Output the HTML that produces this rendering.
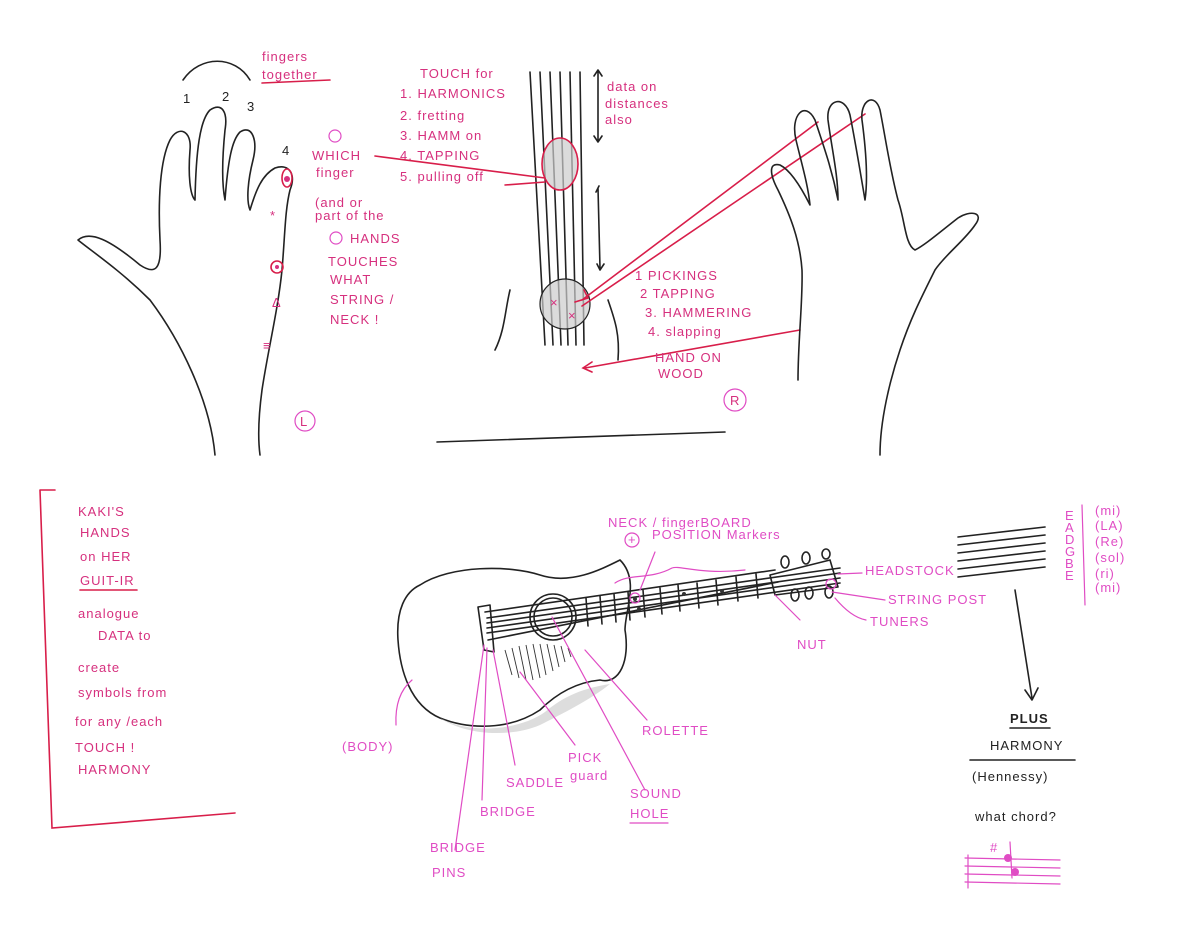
<!DOCTYPE html>
<html><head><meta charset="utf-8"><style>
html,body{margin:0;padding:0;background:#fff;}
svg{display:block;}
.k{fill:none;stroke:#222;stroke-width:1.6;stroke-linecap:round;stroke-linejoin:round}
.r{fill:none;stroke:#d81e4a;stroke-width:1.6;stroke-linecap:round}
.m{fill:none;stroke:#e04cc4;stroke-width:1.2;stroke-linecap:round}
.t{font-family:"Liberation Sans",sans-serif;fill:#d6307e;font-size:13px;letter-spacing:1px}
.tm{font-family:"Liberation Sans",sans-serif;fill:#e04cc4;font-size:13px;letter-spacing:1px}
.tk{font-family:"Liberation Sans",sans-serif;fill:#222;font-size:13px;letter-spacing:1px}
</style></head><body>
<svg width="1200" height="938" viewBox="0 0 1200 938" xmlns="http://www.w3.org/2000/svg">
<!-- LEFT HAND -->
<path class="k" d="M215 455 C210 400 180 340 150 300 C120 270 90 250 78 240 C90 230 110 240 140 265 C155 275 162 270 160 240 C158 200 160 160 170 140 C178 125 192 130 190 150 C188 175 190 195 195 200 C196 150 200 120 210 110 C222 102 228 112 225 130 C222 160 222 185 225 200 C228 160 232 140 240 132 C252 124 258 140 253 160 C248 180 246 200 250 210 C256 190 262 175 275 168 C290 163 296 175 290 190 C285 210 285 235 282 270 C278 310 268 350 262 390 C258 420 258 440 260 455"/>
<path class="k" d="M183 80 C200 55 235 55 250 80"/>
<text class="tk" x="183" y="103" font-size="10">1</text><text class="tk" x="222" y="101" font-size="10">2</text><text class="tk" x="247" y="111" font-size="10">3</text><text class="tk" x="282" y="155" font-size="10">4</text>
<text class="t" x="262" y="61">fingers</text><text class="t" x="262" y="79">together</text>
<path class="r" d="M262 83 L330 80"/>
<circle cx="287" cy="179" r="3" fill="#d6307e"/><ellipse cx="287" cy="178" rx="5" ry="9" class="r"/>
<text class="t" x="270" y="220" font-size="12">*</text>
<circle cx="277" cy="267" r="6" class="r"/><circle cx="277" cy="267" r="2" fill="#d6307e"/>
<text class="t" x="272" y="307" font-size="11">Δ</text>
<text class="t" x="263" y="350" font-size="11">≡</text>
<circle cx="305" cy="421" r="10" class="m" stroke="#d6307e"/><text class="t" x="300" y="426" font-size="11">L</text>
<circle cx="335" cy="136" r="6" class="m" stroke="#d6307e"/>
<text class="t" x="312" y="160">WHICH</text><text class="t" x="316" y="177">finger</text>
<text class="t" x="315" y="207" font-size="12">(and or</text><text class="t" x="315" y="220" font-size="12">part of the</text>
<circle cx="336" cy="238" r="6" class="m" stroke="#d6307e"/><text class="t" x="350" y="243">HANDS</text>
<text class="t" x="328" y="266">TOUCHES</text><text class="t" x="330" y="284">WHAT</text>
<text class="t" x="330" y="304">STRING /</text><text class="t" x="330" y="324">NECK !</text>
<!-- top list -->
<text class="t" x="420" y="78" font-size="12">TOUCH for</text>
<text class="t" x="400" y="98" font-size="12">1. HARMONICS</text>
<text class="t" x="400" y="120" font-size="12">2. fretting</text>
<text class="t" x="400" y="140" font-size="12">3. HAMM on</text>
<text class="t" x="400" y="160" font-size="12">4. TAPPING</text>
<text class="t" x="400" y="181" font-size="12">5. pulling off</text>
<!-- NECK -->
<g class="k" stroke-width="1.2"><path d="M530 72 L545 345"/><path d="M540 72 L553 345"/><path d="M550 72 L561 345"/><path d="M560 72 L568 345"/><path d="M570 72 L576 345"/><path d="M580 72 L584 345"/></g>
<path class="k" d="M510 290 C505 310 505 330 495 350"/><path class="k" d="M608 300 C615 320 620 335 618 360"/>
<ellipse cx="560" cy="164" rx="18" ry="26" fill="#ccc" fill-opacity=".7" stroke="#d81e4a" stroke-width="1.6"/>
<circle cx="565" cy="304" r="25" fill="#ccc" fill-opacity=".7" stroke="#222" stroke-width="1.2"/>
<text class="t" x="550" y="307" fill="#d81e4a">×</text><text class="t" x="568" y="320" fill="#d81e4a">×</text>
<path class="r" d="M375 156 L545 178"/><path class="r" d="M505 185 L545 182"/>
<path class="k" d="M598 72 L598 140 M594 76 L598 70 L602 76 M594 136 L598 142 L602 136" stroke-width="1"/>
<path class="k" d="M598 188 L600 268 M596 192 L599 186 M597 264 L600 270 L604 264" stroke-width="1"/>
<text class="t" x="607" y="91" font-size="12">data on</text><text class="t" x="605" y="108" font-size="12">distances</text><text class="t" x="605" y="124" font-size="12">also</text>
<path class="r" d="M582 300 L818 122 M582 306 L865 114 M575 302 L588 298 L584 290"/>
<text class="t" x="635" y="280" font-size="12">1 PICKINGS</text><text class="t" x="640" y="298" font-size="12">2 TAPPING</text>
<text class="t" x="645" y="317" font-size="12">3. HAMMERING</text><text class="t" x="648" y="336" font-size="12">4. slapping</text>
<path class="r" d="M800 330 L585 368 M592 362 L583 368 L592 372"/>
<text class="t" x="655" y="362" font-size="12">HAND ON</text><text class="t" x="658" y="378" font-size="12">WOOD</text>
<circle cx="735" cy="400" r="11" stroke="#d6307e" class="m"/><text class="t" x="730" y="405" font-size="11">R</text>
<path class="k" d="M437 442 L725 432" stroke-width="1.4"/>
<!-- RIGHT HAND -->
<path class="k" d="M880 455 C880 420 890 380 900 350 C910 320 920 300 935 270 C945 255 965 240 975 225 C985 212 970 210 958 218 C940 232 925 245 915 250 C905 245 905 220 898 200 C890 170 885 135 880 110 C875 92 860 100 862 120 C866 150 868 180 865 200 C860 170 855 140 850 115 C845 95 826 98 828 120 C832 150 838 175 838 200 C832 170 825 150 815 120 C805 100 790 115 796 140 C802 165 808 185 810 205 C800 185 790 170 780 165 C768 162 770 175 778 190 C790 215 800 240 802 270 C803 300 798 340 798 380"/>
<!-- LEFT box -->
<path class="r" d="M40 490 L52 828 L235 813 M40 490 L55 490" stroke-width="1.4"/>
<g class="t" font-size="16">
<text x="78" y="516">KAKI'S</text><text x="80" y="537">HANDS</text><text x="80" y="561">on HER</text><text x="80" y="585">GUIT-IR</text>
<text x="78" y="618">analogue</text><text x="98" y="640">DATA to</text><text x="78" y="672">create</text>
<text x="78" y="697">symbols from</text><text x="75" y="726">for any /each</text><text x="75" y="752">TOUCH !</text><text x="78" y="774">HARMONY</text></g>
<path class="r" d="M80 590 L137 590" stroke-width="1"/>
<!-- GUITAR -->
<path class="k" d="M420 585 C450 565 510 565 540 575 C570 585 600 570 620 560 C640 580 625 610 625 630 C630 660 620 685 600 680 C580 682 560 690 540 710 C510 730 470 730 440 718 C410 705 400 670 398 640 C396 610 405 592 420 585 Z" fill="#fff"/>
<path d="M440 718 C470 735 520 730 545 712 C565 695 585 688 610 684 C590 700 560 715 540 725 C510 738 465 735 440 718 Z" fill="#ddd"/>
<g stroke="#333" stroke-width=".9"><path d="M505 650 L512 675"/><path d="M512 648 L519 678"/><path d="M519 646 L526 680"/><path d="M526 645 L533 680"/><path d="M533 644 L540 678"/><path d="M540 644 L546 675"/><path d="M547 644 L553 671"/><path d="M554 645 L559 667"/><path d="M561 646 L565 662"/><path d="M568 648 L571 657"/></g>
<circle cx="553" cy="617" r="23" class="k" fill="#fff"/><circle cx="553" cy="617" r="19" class="k" stroke-width="1"/>
<path class="k" d="M485 612 L775 570 M488 640 L778 582" stroke-width="1.2"/>
<g class="k" stroke-width=".8"><path d="M487 618 L840 568"/><path d="M487 623 L840 573"/><path d="M487 628 L840 578"/><path d="M487 633 L840 583"/></g>
<g class="k" stroke-width=".9"><path d="M586 598 L588 626"/><path d="M600 596 L602 624"/><path d="M614 594 L616 622"/><path d="M628 592 L630 620"/><path d="M643 590 L645 617"/><path d="M660 588 L662 614"/><path d="M678 585 L680 611"/><path d="M697 583 L699 608"/><path d="M716 580 L718 605"/><path d="M736 577 L738 601"/><path d="M756 574 L758 598"/></g>
<path class="k" d="M478 607 L490 605 L494 652 L484 650 Z" fill="#fff" stroke-width="1.2"/>
<path class="k" d="M770 575 L830 560 L838 587 L775 595 Z" stroke-width="1.2" fill="#fff"/>
<g class="k" stroke-width="1.2" fill="#fff"><ellipse cx="785" cy="562" rx="4" ry="6"/><ellipse cx="806" cy="558" rx="4" ry="6"/><ellipse cx="826" cy="554" rx="4" ry="5"/><ellipse cx="795" cy="595" rx="4" ry="6"/><ellipse cx="809" cy="593" rx="4" ry="6"/><ellipse cx="829" cy="592" rx="4" ry="6"/></g>
<circle cx="831" cy="584" r="5" class="m"/>
<g fill="#333"><circle cx="635" cy="599" r="2"/><circle cx="639" cy="609" r="2"/><circle cx="684" cy="594" r="2"/><circle cx="722" cy="591" r="2"/></g>
<circle cx="635" cy="598" r="5" class="m"/>
<path class="m" d="M615 583 C630 573 650 580 672 568 C680 565 700 575 745 570"/>
<path class="m" d="M640 590 L655 552"/>
<text class="tm" x="608" y="527" font-size="12">NECK / fingerBOARD</text>
<circle cx="632" cy="540" r="7" class="m"/><text class="tm" x="628" y="544" font-size="11">+</text>
<text class="tm" x="652" y="539" font-size="13">POSITION Markers</text>
<text class="tm" x="865" y="575">HEADSTOCK</text><path class="m" d="M838 574 L862 573"/>
<text class="tm" x="888" y="604">STRING POST</text><path class="m" d="M832 592 L885 600"/>
<text class="tm" x="870" y="626">TUNERS</text><path class="m" d="M835 598 C845 610 855 618 866 620"/>
<text class="tm" x="797" y="649" font-size="12">NUT</text><path class="m" d="M775 595 L800 620"/>
<text class="tm" x="342" y="751" font-size="11">(BODY)</text><path class="m" d="M412 680 C400 690 395 705 396 725"/>
<path class="m" d="M484 645 L455 850 M487 648 L482 800 M493 650 L515 765 M520 672 L575 745 M552 617 L645 790 M585 650 L647 720"/>
<text class="tm" x="480" y="816" font-size="12">BRIDGE</text>
<text class="tm" x="506" y="787" font-size="12">SADDLE</text>
<text class="tm" x="568" y="762" font-size="12">PICK</text><text class="tm" x="570" y="780" font-size="12">guard</text>
<text class="tm" x="642" y="735" font-size="12">ROLETTE</text>
<text class="tm" x="630" y="798" font-size="12">SOUND</text><text class="tm" x="630" y="818" font-size="12">HOLE</text>
<path class="m" d="M630 823 L668 823"/>
<text class="tm" x="430" y="852" font-size="12">BRIDGE</text><text class="tm" x="432" y="877" font-size="12">PINS</text>
<!-- staff -->
<g class="k" stroke-width="1.4"><path d="M958 537 L1045 527"/><path d="M958 545 L1045 535"/><path d="M958 553 L1045 543"/><path d="M958 561 L1045 551"/><path d="M958 569 L1045 559"/><path d="M958 577 L1045 567"/></g>
<g class="tm" font-size="10"><text x="1065" y="520">E</text><text x="1065" y="532">A</text><text x="1065" y="544">D</text><text x="1065" y="556">G</text><text x="1065" y="568">B</text><text x="1065" y="580">E</text></g>
<path class="m" d="M1082 505 L1085 605"/>
<g class="tm" font-size="10"><text x="1095" y="515">(mi)</text><text x="1095" y="530">(LA)</text><text x="1095" y="546">(Re)</text><text x="1095" y="562">(sol)</text><text x="1095" y="578">(ri)</text><text x="1095" y="592">(mi)</text></g>
<path class="k" d="M1015 590 L1032 698 M1025 690 L1032 700 L1038 688" stroke-width="1.4"/>
<text class="tk" x="1010" y="723" font-weight="bold">PLUS</text><path class="k" d="M1010 728 L1050 728" stroke-width="1"/>
<text class="tk" x="990" y="750">HARMONY</text><path class="k" d="M970 760 L1075 760" stroke-width="1.4"/>
<text class="tk" x="972" y="781">(Hennessy)</text>
<text class="tk" x="975" y="821" font-size="14">what chord?</text>
<g class="m"><path d="M965 858 L1060 860 M965 866 L1060 868 M965 874 L1060 876 M965 882 L1060 884 M968 855 L968 888"/><path d="M1010 842 L1012 878"/></g>
<circle cx="1008" cy="858" r="4" fill="#e04cc4"/><circle cx="1015" cy="872" r="4" fill="#e04cc4"/>
<text class="tm" x="990" y="852" font-size="12">#</text>
</svg>
</body></html>
